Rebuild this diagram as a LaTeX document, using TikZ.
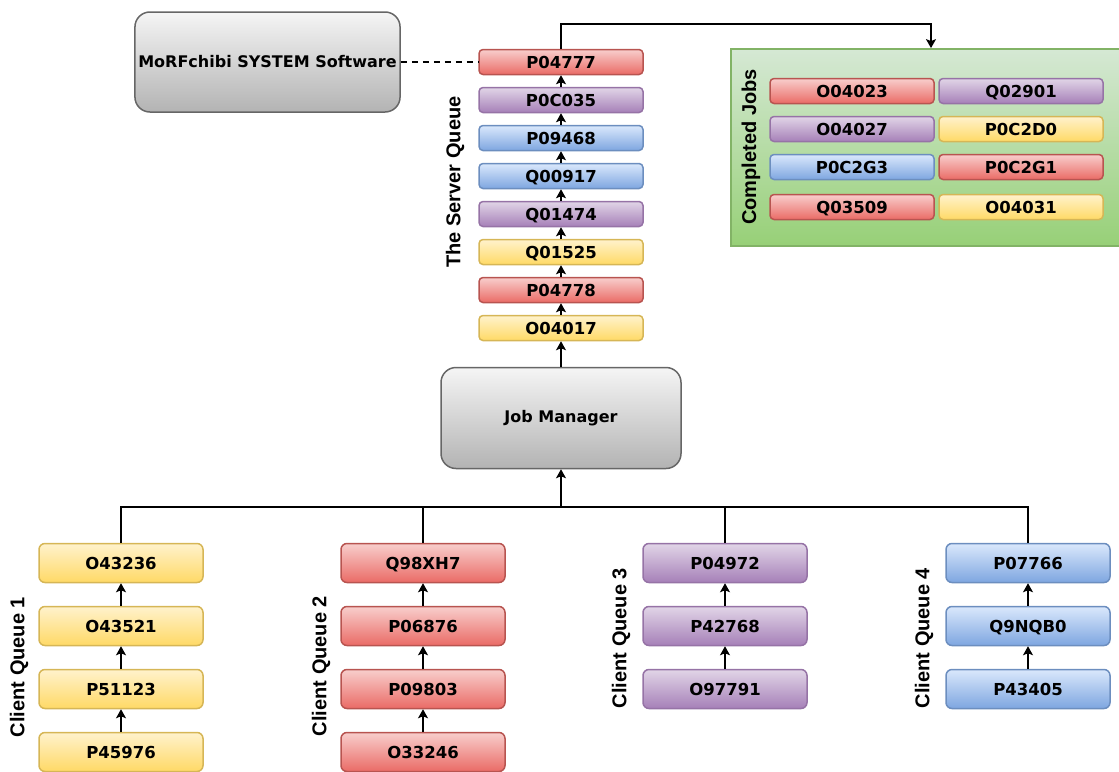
\documentclass[tikz,border=0pt]{standalone}
\usepackage{fontspec}
\setmainfont{DejaVu Sans}
\newfontfamily\labelfont{Liberation Sans}
\usetikzlibrary{arrows.meta, positioning}

% draw.io like colours (top, bottom, line)
\definecolor{yellowtop}{HTML}{FFF2CC}
\definecolor{yellowbot}{HTML}{FFD966}
\definecolor{yellowline}{HTML}{D6B656}
\definecolor{redtop}{HTML}{F8CECC}
\definecolor{redbot}{HTML}{EA6B66}
\definecolor{redline}{HTML}{B85450}
\definecolor{purpletop}{HTML}{E1D5E7}
\definecolor{purplebot}{HTML}{A680B8}
\definecolor{purpleline}{HTML}{9673A6}
\definecolor{bluetop}{HTML}{DAE8FC}
\definecolor{bluebot}{HTML}{7EA6E0}
\definecolor{blueline}{HTML}{6C8EBF}
\definecolor{graytop}{HTML}{F5F5F5}
\definecolor{graybot}{HTML}{B3B3B3}
\definecolor{grayline}{HTML}{666666}
\definecolor{greentop}{HTML}{D5E8D4}
\definecolor{greenbot}{HTML}{97D077}
\definecolor{greenline}{HTML}{82B366}

\begin{document}
\begin{tikzpicture}[
    x=1pt, y=-1pt,
    line width=1.2pt,
    >={Stealth[length=9pt, width=10pt, inset=2pt]}
  ]

  % Styles
  \tikzstyle{job}=[draw, rounded corners=4pt, line width=1.5pt, minimum width=164pt, minimum height=25pt, inner sep=0pt, text height=12pt, text depth=0pt, font=\bfseries\fontsize{16.5}{16.5}\selectfont]
  \tikzstyle{client}=[job, rounded corners=6pt, minimum height=39pt]
  \tikzstyle{yellow}=[top color=yellowtop, bottom color=yellowbot, draw=yellowline]
  \tikzstyle{red}=[top color=redtop, bottom color=redbot, draw=redline]
  \tikzstyle{purple}=[top color=purpletop, bottom color=purplebot, draw=purpleline]
  \tikzstyle{blue}=[top color=bluetop, bottom color=bluebot, draw=blueline]
  \tikzstyle{block}=[draw=grayline, top color=graytop, bottom color=graybot, rounded corners=15pt, line width=1.5pt, font=\bfseries\fontsize{16}{16}\selectfont]
  \tikzstyle{qlabel}=[rotate=90, inner sep=0pt, font=\labelfont\bfseries\fontsize{20}{20}\selectfont]

  \useasboundingbox (0,0) rectangle (1119,771);
  \clip (0,0) rectangle (1119,771);

  % Software and Job Manager
  \node[block, minimum width=261pt, minimum height=100pt] (software) at (267.5,62) {MoRFchibi SYSTEM Software};
  \node[block, minimum width=240pt, minimum height=101pt] (manager) at (561,418) {Job Manager};

  % The server queue
  \node[job, red] (P04777) at (561,62) {P04777};
  \node[job, purple] (P0C035) at (561,100) {P0C035};
  \node[job, blue] (P09468) at (561,138) {P09468};
  \node[job, blue] (Q00917) at (561,176) {Q00917};
  \node[job, purple] (Q01474) at (561,214) {Q01474};
  \node[job, yellow] (Q01525) at (561,252) {Q01525};
  \node[job, red] (P04778) at (561,290) {P04778};
  \node[job, yellow] (O04017) at (561,328) {O04017};
  \node[qlabel] (serverlabel) at (455,182) {The Server Queue};

  % Completed jobs
  \node[draw=greenline, line width=1.8pt, top color=greentop, bottom color=greenbot, minimum width=402pt, minimum height=197pt] (done) at (932,147.5) {};
  \node[qlabel] (donelabel) at (751,147) {Completed Jobs};
  \node[job, red] (O04023) at (852,91) {O04023};
  \node[job, purple] (Q02901) at (1021,91) {Q02901};
  \node[job, purple] (O04027) at (852,129) {O04027};
  \node[job, yellow] (P0C2D0) at (1021,129) {P0C2D0};
  \node[job, blue] (P0C2G3) at (852,167) {P0C2G3};
  \node[job, red] (P0C2G1) at (1021,167) {P0C2G1};
  \node[job, red] (Q03509) at (852,207) {Q03509};
  \node[job, yellow] (O04031) at (1021,207) {O04031};

  % Client queues
  \node[client, yellow] (O43236) at (121,563) {O43236};
  \node[client, yellow] (O43521) at (121,626) {O43521};
  \node[client, yellow] (P51123) at (121,689) {P51123};
  \node[client, yellow] (P45976) at (121,752) {P45976};
  \node[qlabel] (cq1) at (19,667) {Client Queue 1};

  \node[client, red] (Q98XH7) at (423,563) {Q98XH7};
  \node[client, red] (P06876) at (423,626) {P06876};
  \node[client, red] (P09803) at (423,689) {P09803};
  \node[client, red] (O33246) at (423,752) {O33246};
  \node[qlabel] (cq2) at (321,666) {Client Queue 2};

  \node[client, purple] (P04972) at (725,563) {P04972};
  \node[client, purple] (P42768) at (725,626) {P42768};
  \node[client, purple] (O97791) at (725,689) {O97791};
  \node[qlabel] (cq3) at (621,638) {Client Queue 3};

  \node[client, blue] (P07766) at (1028,563) {P07766};
  \node[client, blue] (Q9NQB0) at (1028,626) {Q9NQB0};
  \node[client, blue] (P43405) at (1028,689) {P43405};
  \node[qlabel] (cq4) at (924,638) {Client Queue 4};

  % Server queue arrows
  \draw[->] (P0C035) -- (P04777);
  \draw[->] (P09468) -- (P0C035);
  \draw[->] (Q00917) -- (P09468);
  \draw[->] (Q01474) -- (Q00917);
  \draw[->] (Q01525) -- (Q01474);
  \draw[->] (P04778) -- (Q01525);
  \draw[->] (O04017) -- (P04778);
  \draw[->] (manager) -- (O04017);

  % Server to completed jobs, and the software link
  \coordinate (top) at (931,24);
  \draw[->] (P04777.north) |- (top) -- (top |- done.north);
  \draw[dashed, dash pattern=on 6pt off 5pt] (software) -- (P04777);

  % Client queue arrows
  \draw[->] (O43521) -- (O43236);
  \draw[->] (P51123) -- (O43521);
  \draw[->] (P45976) -- (P51123);
  \draw[->] (P06876) -- (Q98XH7);
  \draw[->] (P09803) -- (P06876);
  \draw[->] (O33246) -- (P09803);
  \draw[->] (P42768) -- (P04972);
  \draw[->] (O97791) -- (P42768);
  \draw[->] (Q9NQB0) -- (P07766);
  \draw[->] (P43405) -- (Q9NQB0);

  % Clients to Job Manager
  \coordinate (bus) at (561,507);
  \draw (O43236.north) |- (bus);
  \draw (Q98XH7.north) |- (bus);
  \draw (P04972.north) |- (bus);
  \draw (P07766.north) |- (bus);
  \draw[->] (bus) -- (manager);

\end{tikzpicture}
\end{document}
